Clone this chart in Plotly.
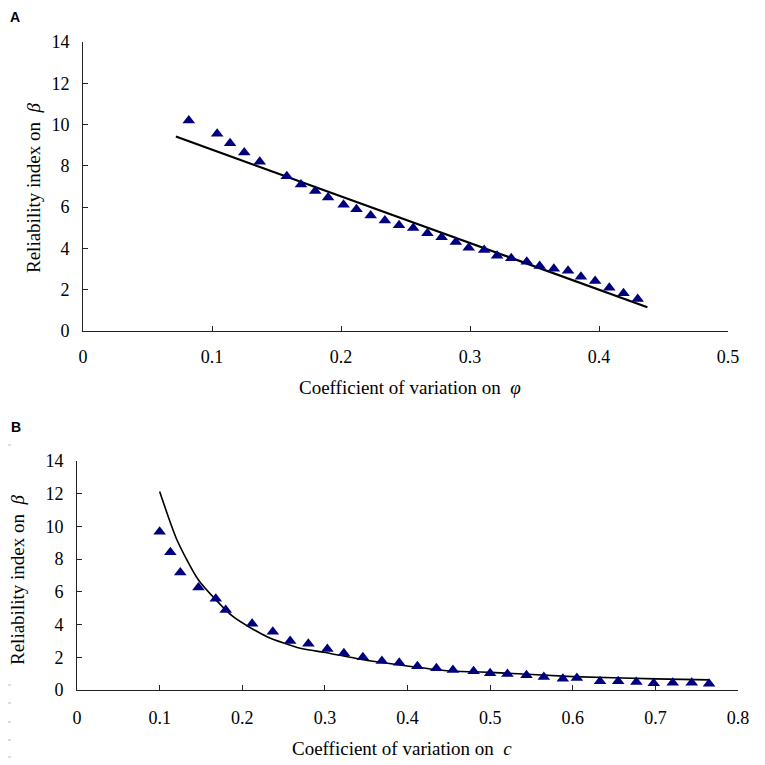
import plotly.graph_objects as go
from plotly.subplots import make_subplots

# Panel A: coefficient of variation on phi
phi_cov = [0.082, 0.104, 0.114, 0.125, 0.137, 0.158, 0.169, 0.180, 0.190, 0.202,
           0.212, 0.223, 0.234, 0.245, 0.256, 0.267, 0.278, 0.289, 0.299, 0.311,
           0.321, 0.332, 0.344, 0.354, 0.365, 0.376, 0.386, 0.397, 0.408, 0.419, 0.430]
phi_beta = [10.2, 9.55, 9.1, 8.65, 8.2, 7.5, 7.1, 6.78, 6.47, 6.12,
            5.9, 5.6, 5.35, 5.12, 4.99, 4.74, 4.54, 4.31, 4.03, 3.92,
            3.65, 3.52, 3.36, 3.15, 3.02, 2.92, 2.63, 2.42, 2.1, 1.83, 1.55]
phi_fit_x = [0.072, 0.4375]
phi_fit_y = [9.42, 1.15]

# Panel B: coefficient of variation on c
c_cov = [0.100, 0.113, 0.125, 0.147, 0.168, 0.180, 0.212, 0.237, 0.258, 0.280,
         0.303, 0.323, 0.346, 0.369, 0.390, 0.412, 0.435, 0.455, 0.480, 0.500,
         0.521, 0.544, 0.565, 0.588, 0.605, 0.633, 0.655, 0.677, 0.698, 0.721,
         0.744, 0.765]
c_beta = [9.67, 8.42, 7.19, 6.27, 5.58, 4.89, 4.05, 3.56, 3.0, 2.82,
          2.51, 2.25, 2.0, 1.78, 1.67, 1.45, 1.33, 1.22, 1.14, 1.02,
          0.98, 0.9, 0.8, 0.69, 0.73, 0.54, 0.54, 0.49, 0.41, 0.44,
          0.44, 0.38]
c_fit_x = [0.100, 0.121, 0.147, 0.189, 0.230, 0.270, 0.302, 0.343, 0.391,
           0.448, 0.500, 0.600, 0.700, 0.765]
c_fit_y = [12.13, 9.17, 6.73, 4.48, 3.26, 2.55, 2.28, 1.88, 1.53,
           1.18, 1.08, 0.82, 0.68, 0.62]

# the page puts the plot 8px in from the corner, so the figure is 757px
OFF = 8
W = H = 765 - OFF
SERIF = "Liberation Serif"
MARK = "#00007F"


def px(p):
    return (p - OFF) / W


def py(p):
    return 1 - (p - OFF) / H


fig = make_subplots(rows=2, cols=1)

fig.add_trace(go.Scatter(x=phi_fit_x, y=phi_fit_y, mode="lines",
                         line=dict(color="black", width=2.2)), row=1, col=1)
fig.add_trace(go.Scatter(x=phi_cov, y=phi_beta, mode="markers",
                         marker=dict(symbol="triangle-up", size=11, color=MARK,
                                     line=dict(width=0))), row=1, col=1)
fig.add_trace(go.Scatter(x=c_fit_x, y=c_fit_y, mode="lines",
                         line=dict(color="black", width=1.6, shape="spline", smoothing=0.6)),
              row=2, col=1)
fig.add_trace(go.Scatter(x=c_cov, y=c_beta, mode="markers",
                         marker=dict(symbol="triangle-up", size=11, color=MARK,
                                     line=dict(width=0))), row=2, col=1)

tick_font = dict(family=SERIF, size=18, color="black")
axis_common = dict(showgrid=False, zeroline=False, showline=True, linecolor="#222",
                   linewidth=1, ticks="inside", ticklen=5, tickcolor="#222",
                   automargin=False, tickfont=tick_font)

fig.update_xaxes(**axis_common)
fig.update_yaxes(**axis_common)

fig.update_xaxes(range=[0, 0.5], tickvals=[0, 0.1, 0.2, 0.3, 0.4, 0.5],
                 ticktext=["0", "0.1", "0.2", "0.3", "0.4", "0.5"],
                 domain=[px(83), px(728)], ticklabelstandoff=9, row=1, col=1)
fig.update_yaxes(range=[0, 14], dtick=2, domain=[py(331), py(42)],
                 ticklabelstandoff=9, row=1, col=1)
fig.update_xaxes(range=[0, 0.8], tickvals=[0, 0.1, 0.2, 0.3, 0.4, 0.5, 0.6, 0.7, 0.8],
                 ticktext=["0", "0.1", "0.2", "0.3", "0.4", "0.5", "0.6", "0.7", "0.8"],
                 domain=[px(77), px(738)], ticklabelstandoff=11, row=2, col=1)
fig.update_yaxes(range=[0, 14], dtick=2, domain=[py(690), py(461)],
                 ticklabelstandoff=9, row=2, col=1)

title_font = dict(family=SERIF, size=19, color="black")
letter_font = dict(family="Liberation Sans", size=14, color="black")
annotations = [
    dict(text="<b>A</b>", x=px(9), y=py(8), xanchor="left", yanchor="top",
         borderpad=0, font=letter_font),
    dict(text="<b>B</b>", x=px(9), y=py(427), xanchor="left", font=letter_font),
    dict(text="Coefficient of variation on  <i>φ</i>", x=px(410), y=py(387), font=title_font),
    dict(text="Coefficient of variation on  <i>c</i>", x=px(402), y=py(748), font=title_font),
    dict(text="Reliability index on  <i>β</i>", x=px(33), y=py(188), textangle=-90, font=title_font),
    dict(text="Reliability index on  <i>β</i>", x=px(17), y=py(580), textangle=-90, font=title_font),
]
for a in annotations:
    a.setdefault("xanchor", "center")
    a.setdefault("yanchor", "middle")
    fig.add_annotation(xref="paper", yref="paper", showarrow=False, **a)

# faint scan dashes along the page edges of panel B
shapes = []
for i in range(18):
    yy = py(445 + i * 18.5)
    shapes.append(dict(type="line", xref="paper", yref="paper", x0=px(758), x1=px(762),
                       y0=yy, y1=yy, line=dict(color="#bbbbbb", width=1)))
for p in [445, 685, 703, 722, 740, 757]:
    shapes.append(dict(type="line", xref="paper", yref="paper", x0=px(8), x1=px(11),
                       y0=py(p), y1=py(p), line=dict(color="#bbbbbb", width=1)))

fig.update_layout(width=W, height=H, margin=dict(l=0, r=0, t=0, b=0),
                  font=dict(family=SERIF, size=18, color="black"),
                  plot_bgcolor="white", paper_bgcolor="white",
                  showlegend=False, shapes=shapes)

fig.write_html("out.html")
